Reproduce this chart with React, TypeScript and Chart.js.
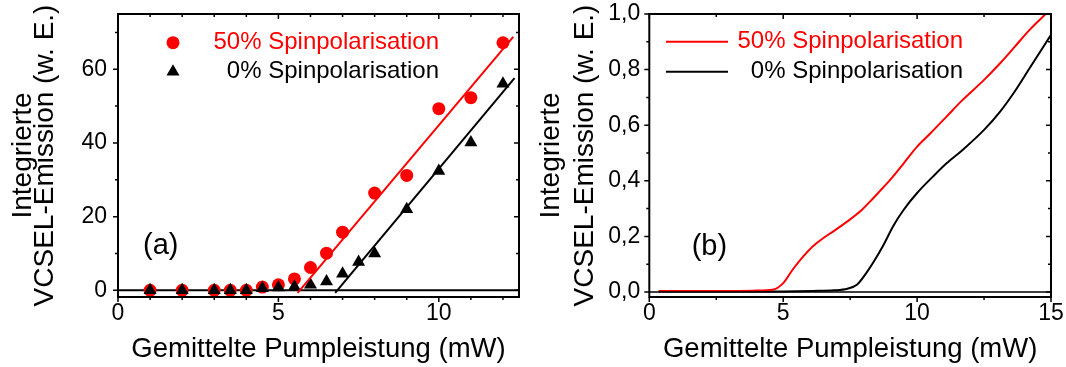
import React, { useEffect, useRef } from 'react';
import { Chart, registerables } from 'chart.js';

Chart.register(...registerables);

const FONT = '"Liberation Sans", Arial, Helvetica, sans-serif';
const RED = '#ff0000';
const BLACK = '#000000';

// ---- Panel (a): integrated emission vs. average pump power ----
const pumpA50 = [1, 2, 3, 3.5, 4, 4.5, 5, 5.5, 6, 6.5, 7, 8, 9, 10, 11, 12];
const emissionA50 = [0, 0, 0, 0, 0, 0.9, 1.5, 3.1, 6.2, 10.1, 15.8, 26.4, 31.2, 49.3, 52.3, 67.2];
const pumpA0 = [1, 2, 3, 3.5, 4, 4.5, 5, 5.5, 6, 6.5, 7, 7.5, 8, 9, 10, 11, 12];
const emissionA0 = [0, 0, 0, 0, 0, 0.6, 0.8, 1.0, 1.5, 2.4, 4.5, 7.7, 10.0, 22.0, 32.4, 40.1, 56.1];
// linear fits above threshold
const fitA50X = [5.6, 12.32];
const fitA50Y = [-0.7, 68.8];
const fitA0X = [6.77, 12.36];
const fitA0Y = [-0.7, 57.6];
const baseAX = [0, 12.5];
const baseAY = [0, 0];
const ticksAX = [0, 5, 10];
const ticksAY = [0, 20, 40, 60];

// ---- Panel (b): simulated emission ----
const pumpB50 = [0.35, 1, 2, 3, 4, 4.6, 5.0, 5.35, 5.75, 6.1, 6.5, 6.9, 7.4, 7.9, 8.25, 8.6, 9.0, 9.5, 10.0, 10.5, 11.1, 11.7, 12.5, 13.1, 13.6, 14.2, 14.8];
const emissionB50 = [0.004, 0.004, 0.004, 0.004, 0.005, 0.008, 0.032, 0.08, 0.128, 0.164, 0.194, 0.22, 0.254, 0.292, 0.326, 0.362, 0.404, 0.463, 0.523, 0.571, 0.631, 0.691, 0.763, 0.823, 0.877, 0.943, 1.0];
const pumpB0 = [0.35, 2, 4, 6.1, 6.9, 7.4, 7.75, 8.1, 8.35, 8.75, 9.1, 9.5, 10.0, 10.6, 11.1, 11.7, 12.5, 13.1, 13.6, 14.2, 15.0];
const emissionB0 = [0.002, 0.002, 0.002, 0.004, 0.006, 0.012, 0.026, 0.068, 0.104, 0.17, 0.236, 0.296, 0.356, 0.416, 0.463, 0.511, 0.583, 0.649, 0.715, 0.805, 0.925];
const baseBX = [0, 15];
const baseBY = [0, 0];
const ticksBX = [0, 5, 10, 15];
const ticksBY = [0, 0.2, 0.4, 0.6, 0.8, 1.0];

const LABEL_50 = '50% Spinpolarisation';
const LABEL_0 = '0% Spinpolarisation';
const X_TITLE = 'Gemittelte Pumpleistung (mW)';
const Y_TITLE = ['Integrierte', 'VCSEL-Emission (w. E.)'];

const pts = (xs: number[], ys: number[]) => xs.map((x, i) => ({ x, y: ys[i] }));

// Frame around the plot area plus major/minor ticks on all four sides
const frameTicks = {
  id: 'frameTicks',
  afterDraw(chart: any, _a: any, o: any) {
    const { ctx, scales } = chart;
    const sx = scales.x;
    const sy = scales.y;
    const L = sx.left;
    const R = sx.right;
    const T = sy.top;
    const B = sy.bottom;
    ctx.save();
    ctx.strokeStyle = BLACK;
    ctx.lineCap = 'square';
    ctx.lineWidth = 2;
    ctx.beginPath();
    ctx.moveTo(L, T);
    ctx.lineTo(R, T);
    ctx.lineTo(R, B);
    ctx.lineTo(L, B);
    ctx.closePath();
    ctx.stroke();
    ctx.lineCap = 'butt';
    ctx.lineWidth = 1.5;
    ctx.beginPath();
    const eps = 1e-6;
    for (let v = sx.min; v <= sx.max + eps; v += o.xMinor) {
      const isMajor = Math.abs(v / o.xMajor - Math.round(v / o.xMajor)) < 1e-6;
      const len = isMajor ? 5 : 3;
      const px = sx.getPixelForValue(v);
      ctx.moveTo(px, B);
      ctx.lineTo(px, B + len);
      ctx.moveTo(px, T);
      ctx.lineTo(px, T + len);
    }
    const start = Math.ceil(sy.min / o.yMinor - 1e-6) * o.yMinor;
    for (let v = start; v <= sy.max + eps; v += o.yMinor) {
      const isMajor = Math.abs(v / o.yMajor - Math.round(v / o.yMajor)) < 1e-6;
      const len = isMajor ? 5 : 3;
      const py = sy.getPixelForValue(v);
      ctx.moveTo(L, py);
      ctx.lineTo(L - len, py);
      ctx.moveTo(R, py);
      ctx.lineTo(R - len, py);
    }
    ctx.stroke();
    ctx.restore();
  },
};

// Legend and panel letter
const annotations = {
  id: 'annotations',
  afterDraw(chart: any, _a: any, o: any) {
    const { ctx } = chart;
    ctx.save();
    ctx.textBaseline = 'middle';
    o.rows.forEach((row: any) => {
      const ds = chart.data.datasets[row.dataset];
      const color = ds.borderColor || ds.backgroundColor;
      ctx.fillStyle = color;
      ctx.strokeStyle = color;
      if (row.kind === 'circle') {
        ctx.beginPath();
        ctx.arc(o.markerX, row.y, 6.5, 0, Math.PI * 2);
        ctx.fill();
      } else if (row.kind === 'triangle') {
        const r = 7.5;
        ctx.beginPath();
        ctx.moveTo(o.markerX, row.y - r);
        ctx.lineTo(o.markerX + r * Math.sin((2 * Math.PI) / 3), row.y + r / 2);
        ctx.lineTo(o.markerX - r * Math.sin((2 * Math.PI) / 3), row.y + r / 2);
        ctx.closePath();
        ctx.fill();
      } else {
        ctx.lineWidth = 2;
        ctx.beginPath();
        ctx.moveTo(o.lineFrom, row.y);
        ctx.lineTo(o.lineTo, row.y);
        ctx.stroke();
      }
      ctx.font = `24px ${FONT}`;
      ctx.textAlign = 'right';
      ctx.fillText(ds.label, o.textRight, row.y);
    });
    ctx.fillStyle = BLACK;
    ctx.textAlign = 'left';
    ctx.font = `29px ${FONT}`;
    ctx.fillText(o.letter, o.letterX, o.letterY);
    ctx.restore();
  },
};

function makeConfig(p: any) {
  return {
    type: 'scatter',
    data: { datasets: p.datasets },
    options: {
      animation: false,
      responsive: false,
      devicePixelRatio: 1,
      events: [],
      layout: { padding: { left: 0, top: 14, right: p.padRight, bottom: 0 } },
      plugins: {
        legend: { display: false },
        tooltip: { enabled: false },
        frameTicks: p.tickOpts,
        annotations: p.annot,
      },
      scales: {
        x: {
          type: 'linear',
          position: 'bottom',
          min: p.xMin,
          max: p.xMax,
          grid: { display: false, drawTicks: false },
          border: { display: false },
          afterFit: (s: any) => { s.height = p.xHeight; s.paddingLeft = 0; s.paddingRight = 0; },
          afterBuildTicks: (s: any) => { s.ticks = p.xTicks.map((v: number) => ({ value: v })); },
          ticks: {
            color: BLACK,
            padding: 3,
            maxRotation: 0,
            font: { family: FONT, size: 23, lineHeight: 1.2 },
            callback: (v: number) => String(v),
          },
          title: {
            display: true,
            text: X_TITLE,
            color: BLACK,
            font: { family: FONT, size: 27.5, lineHeight: 1 },
            padding: { top: 0, bottom: 4 },
          },
        },
        y: {
          type: 'linear',
          position: 'left',
          min: p.yMin,
          max: p.yMax,
          grid: { display: false, drawTicks: false },
          border: { display: false },
          afterFit: (s: any) => { s.width = p.yWidth; s.paddingTop = 0; s.paddingBottom = 0; },
          afterBuildTicks: (s: any) => { s.ticks = p.yTicks.map((v: number) => ({ value: v })); },
          ticks: {
            color: BLACK,
            padding: p.yPad,
            font: { family: FONT, size: 23 },
            callback: p.yFormat,
          },
          title: {
            display: true,
            text: Y_TITLE,
            color: BLACK,
            font: { family: FONT, size: 28, lineHeight: p.yTitleLine },
            padding: { top: p.yTitlePad, bottom: 0 },
          },
        },
      },
    },
    plugins: [frameTicks, annotations],
  };
}

const configA = () =>
  makeConfig({
    xMin: 0, xMax: 12.5, yMin: -1.8, yMax: 75,
    xTicks: ticksAX, yTicks: ticksAY,
    xHeight: 70, yWidth: 118, padRight: 14, yPad: 11,
    yTitleLine: 22 / 28, yTitlePad: 12.3,
    yFormat: (v: number) => String(v),
    tickOpts: { xMajor: 5, xMinor: 1, yMajor: 20, yMinor: 10 },
    annot: {
      markerX: 173, textRight: 439,
      rows: [ { dataset: 3, kind: 'circle', y: 42.7 }, { dataset: 2, kind: 'triangle', y: 71.7 } ],
      letter: '(a)', letterX: 143, letterY: 245.6,
    },
    datasets: [
      { label: 'fit50', data: pts(fitA50X, fitA50Y), showLine: true, borderColor: RED, borderWidth: 2, pointRadius: 0, order: 0 },
      { label: 'fit0', data: pts(fitA0X, fitA0Y), showLine: true, borderColor: BLACK, borderWidth: 2, pointRadius: 0, order: 0 },
      { label: LABEL_0, data: pts(pumpA0, emissionA0), pointStyle: 'triangle', pointRadius: 7.5, backgroundColor: BLACK, borderColor: BLACK, borderWidth: 0, order: 1 },
      { label: LABEL_50, data: pts(pumpA50, emissionA50), pointStyle: 'circle', pointRadius: 6.5, backgroundColor: RED, borderColor: RED, borderWidth: 0, order: 2 },
      { label: 'zero', data: pts(baseAX, baseAY), showLine: true, borderColor: BLACK, borderWidth: 2, pointRadius: 0, order: 3 },
    ],
  });

const configB = () =>
  makeConfig({
    xMin: 0, xMax: 15, yMin: -0.018, yMax: 1.0,
    xTicks: ticksBX, yTicks: ticksBY,
    xHeight: 70, yWidth: 116.3, padRight: 15, yPad: 9,
    yTitleLine: 34 / 28, yTitlePad: 1.7,
    yFormat: (v: number) => v.toFixed(1).replace('.', ','),
    tickOpts: { xMajor: 5, xMinor: 2.5, yMajor: 0.2, yMinor: 0.1 },
    annot: {
      lineFrom: 133, lineTo: 195, textRight: 430,
      rows: [ { dataset: 0, kind: 'line', y: 41.7 }, { dataset: 1, kind: 'line', y: 71.7 } ],
      letter: '(b)', letterX: 158.7, letterY: 247,
    },
    datasets: [
      { label: LABEL_50, data: pts(pumpB50, emissionB50), showLine: true, borderColor: RED, borderWidth: 2, pointRadius: 0, cubicInterpolationMode: 'monotone', order: 1 },
      { label: LABEL_0, data: pts(pumpB0, emissionB0), showLine: true, borderColor: BLACK, borderWidth: 2, pointRadius: 0, cubicInterpolationMode: 'monotone', order: 2 },
      { label: 'zero', data: pts(baseBX, baseBY), showLine: true, borderColor: BLACK, borderWidth: 1.4, pointRadius: 0, order: 0 },
    ],
  });

function Panel({ left, build }: { left: number; build: () => any }) {
  const ref = useRef<HTMLCanvasElement | null>(null);
  useEffect(() => {
    if (!ref.current) return;
    const chart = new Chart(ref.current, build());
    return () => chart.destroy();
  }, [build]);
  return (
    <div style={{ position: 'absolute', left, top: 0, width: 533, height: 367 }}>
      <canvas ref={ref} width={533} height={367} style={{ display: 'block', width: 533, height: 367 }} />
    </div>
  );
}

export default function App() {
  return (
    <div style={{ position: 'absolute', left: 0, top: 0, width: 1066, height: 367, background: '#fff', overflow: 'hidden' }}>
      <Panel left={0} build={configA} />
      <Panel left={533} build={configB} />
    </div>
  );
}
